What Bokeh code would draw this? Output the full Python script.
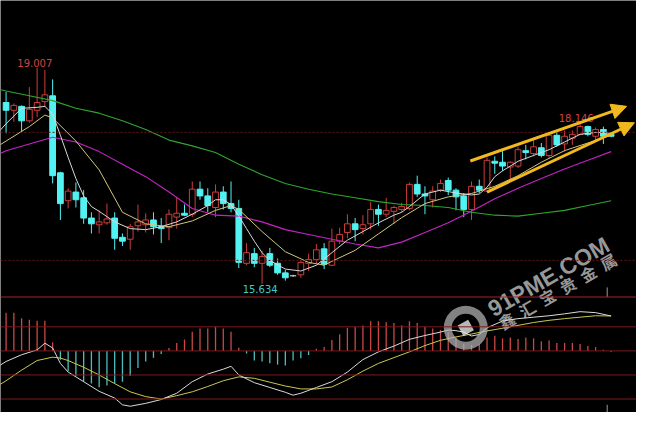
from bokeh.plotting import figure
from bokeh.models import Range1d, Span, Arrow, NormalHead
from bokeh.core.properties import value
from bokeh.embed import file_html
from bokeh.resources import INLINE

# ---------------- data ----------------
opens = [18.466, 18.345, 18.406, 18.180, 18.345, 18.481, 18.571, 17.368, 16.932, 17.067,
         16.977, 16.661, 16.556, 16.586, 16.661, 16.360, 16.330, 16.541, 16.556, 16.631,
         16.526, 16.511, 16.676, 16.736, 16.721, 17.112, 17.007, 16.826, 17.067, 16.887,
         16.811, 15.954, 16.105, 15.954, 16.105, 15.954, 15.804, 15.759, 15.774, 15.954,
         16.014, 16.180, 15.924, 16.300, 16.435, 16.571, 16.496, 16.571, 16.796, 16.721,
         16.766, 16.796, 16.811, 17.187, 17.037, 16.947, 17.097, 17.248, 17.097, 17.007,
         16.796, 17.157, 17.082, 17.548, 17.533, 17.458, 17.473, 17.714, 17.669, 17.759,
         17.639, 17.954, 17.819, 17.909, 17.969, 18.090, 17.939, 18.045, 17.969]
highs = [18.631, 18.451, 18.421, 18.706, 19.007, 18.977, 18.827, 17.383, 17.127, 17.217,
         17.097, 16.751, 16.781, 16.887, 16.751, 16.420, 16.571, 16.872, 16.736, 16.751,
         16.661, 16.796, 16.992, 16.872, 17.232, 17.232, 17.127, 17.187, 17.157, 17.232,
         16.947, 16.270, 16.195, 16.150, 16.195, 16.029, 15.849, 15.774, 15.999, 16.105,
         16.255, 16.270, 16.496, 16.511, 16.721, 16.661, 16.706, 16.917, 16.872, 16.977,
         16.856, 16.902, 17.217, 17.323, 17.157, 17.157, 17.263, 17.293, 17.127, 17.052,
         17.232, 17.263, 17.608, 17.624, 17.714, 17.548, 17.774, 17.804, 17.879, 17.834,
         18.000, 18.000, 18.030, 18.030, 18.146, 18.105, 18.075, 18.090, 17.985]
lows = [17.985, 18.165, 18.000, 18.150, 18.240, 18.406, 17.202, 16.631, 16.811, 16.826,
        16.571, 16.420, 16.420, 16.556, 16.165, 16.225, 16.165, 16.450, 16.435, 16.405,
        16.270, 16.315, 16.496, 16.691, 16.676, 16.947, 16.751, 16.676, 16.796, 16.751,
        15.879, 15.924, 15.894, 15.634, 15.894, 15.774, 15.683, 15.744, 15.728, 15.834,
        15.954, 15.864, 15.909, 16.255, 16.345, 16.300, 16.405, 16.480, 16.541, 16.676,
        16.571, 16.751, 16.781, 16.992, 16.721, 16.826, 17.067, 17.022, 16.781, 16.676,
        16.631, 17.052, 17.067, 17.353, 17.398, 17.263, 17.443, 17.578, 17.624, 17.608,
        17.593, 17.774, 17.699, 17.804, 17.954, 17.939, 17.879, 17.819, 17.924]
closes = [18.345, 18.421, 18.180, 18.360, 18.466, 18.586, 17.323, 16.887, 17.082, 16.947,
          16.661, 16.571, 16.601, 16.646, 16.345, 16.300, 16.526, 16.601, 16.631, 16.526,
          16.496, 16.721, 16.736, 16.706, 17.112, 17.007, 16.856, 17.067, 16.887, 16.811,
          15.969, 16.120, 15.954, 16.059, 15.924, 15.804, 15.728, 15.759, 15.969, 16.014,
          16.165, 15.939, 16.300, 16.405, 16.571, 16.480, 16.556, 16.796, 16.721, 16.781,
          16.826, 16.841, 17.187, 17.037, 17.007, 17.082, 17.202, 17.097, 16.992, 16.796,
          17.157, 17.097, 17.563, 17.518, 17.473, 17.533, 17.729, 17.684, 17.774, 17.639,
          17.954, 17.804, 17.939, 17.969, 18.090, 17.969, 18.045, 17.939, 17.939]

# moving averages (sampled at candle indices)
ma_white_idx = [-1, 0, 2, 4, 5, 6, 7, 8, 9, 10, 11, 12, 14, 16, 18, 20, 22, 24, 26, 27,
                28, 29, 30, 31, 32, 33, 34, 36, 38, 40, 42, 44, 46, 48, 50, 51, 52, 54, 56, 58,
                60, 61, 62, 63, 64, 66, 68, 70, 72, 74, 76, 78]
ma_white = [18.000, 18.135, 18.376, 18.391, 18.406, 18.285, 17.954, 17.608, 17.278, 17.007,
            16.841, 16.766, 16.601, 16.496, 16.480, 16.526, 16.601, 16.721, 16.856, 16.947,
            16.947, 16.872, 16.691, 16.496, 16.300, 16.120, 15.999, 15.864, 15.834, 15.924,
            16.120, 16.315, 16.450, 16.586, 16.706, 16.751, 16.841, 17.037, 17.097, 17.052,
            17.022, 17.037, 17.142, 17.308, 17.398, 17.548, 17.639, 17.729, 17.849, 17.969,
            18.000, 17.985]
ma_yellow_idx = [-1, 0, 3, 5, 6, 9, 12, 15, 18, 21, 24, 27, 29, 30, 33, 36, 39, 41, 42, 45,
                 48, 51, 54, 57, 60, 63, 66, 69, 72, 75, 78]
ma_yellow = [17.789, 17.864, 18.090, 18.270, 18.225, 17.864, 17.413, 16.751, 16.571, 16.526,
             16.616, 16.781, 16.856, 16.796, 16.450, 16.135, 15.969, 15.924, 15.984, 16.157,
             16.413, 16.667, 16.887, 16.992, 17.045, 17.157, 17.323, 17.533, 17.714, 17.834,
             17.954]
ma_long_idx = [-1, 0, 3, 6, 9, 12, 15, 18, 21, 24, 27, 30, 33, 36, 39, 42, 45, 48, 51, 54,
               57, 60, 63, 66, 69, 72, 75, 78]
ma_magenta = [17.654, 17.714, 17.819, 17.924, 17.849, 17.699, 17.503, 17.308, 17.067, 16.811,
              16.706, 16.691, 16.601, 16.480, 16.405, 16.330, 16.255, 16.195, 16.285, 16.435,
              16.586, 16.766, 16.962, 17.127, 17.278, 17.428, 17.563, 17.699]
ma_green = [18.676, 18.646, 18.571, 18.496, 18.376, 18.300, 18.180, 18.045, 17.879, 17.789,
            17.684, 17.503, 17.338, 17.202, 17.112, 17.037, 16.977, 16.917, 16.872, 16.856,
            16.826, 16.751, 16.706, 16.691, 16.736, 16.781, 16.856, 16.932]

# MACD
macd_hist = [0.159, 0.159, 0.136, 0.129, 0.125, 0.125, 0.036, -0.037, -0.084, -0.104,
             -0.128, -0.136, -0.151, -0.144, -0.136, -0.128, -0.104, -0.071, -0.044, -0.028,
             -0.013, 0.012, 0.033, 0.047, 0.080, 0.093, 0.093, 0.100, 0.093, 0.080,
             0.013, -0.011, -0.040, -0.044, -0.051, -0.057, -0.061, -0.040, -0.031, -0.017,
             0.009, 0.016, 0.045, 0.069, 0.096, 0.099, 0.105, 0.123, 0.123, 0.119,
             0.116, 0.107, 0.123, 0.116, 0.100, 0.093, 0.087, 0.076, 0.056, 0.029,
             0.025, 0.029, 0.056, 0.063, 0.052, 0.056, 0.049, 0.056, 0.052, 0.040,
             0.043, 0.033, 0.033, 0.033, 0.029, 0.020, 0.016, 0.005, -0.004]
dif_idx = [-1, 0, 2, 4, 5, 6, 7, 8, 10, 12, 14, 15, 16, 18, 20, 22, 24, 26, 28, 29,
           30, 32, 34, 36, 37, 38, 40, 42, 44, 46, 48, 50, 52, 54, 56, 57, 58, 59, 60, 61,
           62, 64, 66, 68, 70, 72, 74, 76, 78]
dif = [-0.064, -0.044, -0.016, 0.004, 0.032, 0.012, -0.052, -0.088, -0.128, -0.168,
       -0.196, -0.224, -0.230, -0.218, -0.202, -0.176, -0.128, -0.096, -0.076, -0.064,
       -0.100, -0.132, -0.152, -0.172, -0.184, -0.176, -0.152, -0.128, -0.088, -0.036,
       -0.004, 0.020, 0.048, 0.064, 0.078, 0.087, 0.084, 0.078, 0.062, 0.068,
       0.096, 0.124, 0.134, 0.140, 0.146, 0.154, 0.163, 0.159, 0.145]
dea_idx = [-1, 0, 2, 4, 6, 7, 8, 10, 12, 14, 16, 18, 20, 22, 24, 26, 28, 30, 32, 34,
           36, 38, 40, 42, 44, 46, 48, 50, 52, 54, 56, 58, 60, 62, 64, 66, 68, 70, 72, 74,
           76, 78]
dea = [-0.144, -0.124, -0.080, -0.040, -0.026, -0.030, -0.040, -0.068, -0.100, -0.136,
       -0.170, -0.190, -0.200, -0.186, -0.170, -0.148, -0.124, -0.108, -0.114, -0.130,
       -0.146, -0.158, -0.158, -0.150, -0.120, -0.084, -0.052, -0.028, -0.004, 0.022,
       0.044, 0.058, 0.070, 0.083, 0.094, 0.106, 0.118, 0.127, 0.134, 0.140,
       0.146, 0.145]

price_levels = [18.0, 16.0]
macd_levels = [0.1, 0.0, -0.1, -0.2]
label_high = (4, 19.007, "19.007")
label_low = (33, 15.634, "15.634")
label_recent = (74, 18.146, "18.146")
# trend channel (candle index, price)
channel_upper = (59.85, 17.553, 80.0, 18.406)
channel_lower = (62.0, 17.067, 81.0, 18.150)
wm_name = "91PME.COM"
wm_chars = ["鑫", "汇", "宝", "贵", "金", "属"]

# ---------------- styling ----------------
RED = "#CC3E3B"
CYAN = "#52F2F2"
GOLD = "#F2B91E"
W, H = 636, 412


def rx(px):  # reference pixel -> candle index (for decorations)
    return (px - 5.7) / 7.953


def ry(py):  # reference pixel -> price (for decorations)
    return 20.06 - 0.01504 * py


p = figure(width=W, height=H, output_backend="svg", toolbar_location=None,
           x_range=Range1d(-0.72, 81.27), y_range=Range1d(13.623, 20.06),
           x_axis_location=None, y_axis_location=None, min_border=0,
           background_fill_color="black", border_fill_color="black",
           outline_line_color=None)
p.grid.visible = False
p.extra_y_ranges = {"macd": Range1d(-0.256, 1.456)}

# horizontal reference lines
for lv in price_levels:
    p.add_layout(Span(location=lv, dimension="width", line_color="#6A1515",
                      line_width=1, line_dash="2 2"))
p.add_layout(Span(location=0.224, dimension="width", y_range_name="macd",
                  line_color="#A82323", line_width=1.2))
for lv in macd_levels:
    p.add_layout(Span(location=lv, dimension="width", y_range_name="macd",
                      line_color="#7E1A1A", line_width=1))

# candles
n = len(opens)
idx = list(range(n))
up = [i for i in idx if closes[i] > opens[i]]
dn = [i for i in idx if closes[i] < opens[i]]
dj = [i for i in idx if closes[i] == opens[i]]

p.segment(x0=up, x1=up, y0=[lows[i] for i in up], y1=[highs[i] for i in up],
          line_color=RED, line_width=1)
p.segment(x0=dn, x1=dn, y0=[lows[i] for i in dn], y1=[highs[i] for i in dn],
          line_color=CYAN, line_width=1)
p.segment(x0=dj, x1=dj, y0=[lows[i] for i in dj], y1=[highs[i] for i in dj],
          line_color="#D0D0D0", line_width=1)
p.vbar(x=up, width=0.74, top=[closes[i] for i in up], bottom=[opens[i] for i in up],
       fill_color="black", line_color=RED, line_width=1)
p.vbar(x=dn, width=0.74, top=[opens[i] for i in dn], bottom=[closes[i] for i in dn],
       fill_color=CYAN, line_color=CYAN, line_width=1)
p.segment(x0=[i - 0.4 for i in dj], x1=[i + 0.4 for i in dj],
          y0=[opens[i] for i in dj], y1=[closes[i] for i in dj],
          line_color="#D0D0D0", line_width=1.2)

# moving averages
p.line(ma_long_idx, ma_green, line_color="#2FA52F", line_width=1.1)
p.line(ma_long_idx, ma_magenta, line_color="#C424C4", line_width=1.1)
p.line(ma_yellow_idx, ma_yellow, line_color="#CFC77A", line_width=1)
p.line(ma_white_idx, ma_white, line_color="#D8D8D8", line_width=1)

# channel arrows
for (x0, y0, x1, y1) in (channel_upper, channel_lower):
    p.add_layout(Arrow(end=NormalHead(size=15, fill_color=GOLD, line_color=GOLD),
                       x_start=x0, y_start=y0, x_end=x1, y_end=y1,
                       line_color=GOLD, line_width=3))

# high / low labels
font = value("DejaVu Sans")
p.text(x=[label_high[0] - 0.3], y=[label_high[1]], text=[label_high[2]],
       text_color="#D0443F", text_font=font, text_font_size="10px",
       text_align="center", text_baseline="bottom", y_offset=-1)
p.text(x=[label_recent[0] - 0.5], y=[label_recent[1]], text=[label_recent[2]],
       text_color="#D0443F", text_font=font, text_font_size="10px",
       text_align="center", text_baseline="bottom", y_offset=-1)
p.text(x=[label_low[0] - 0.25], y=[label_low[1]], text=[label_low[2]],
       text_color="#46C8C8", text_font=font, text_font_size="10px",
       text_align="center", text_baseline="top", y_offset=1)

# MACD histogram and lines
hcol = [("#C94848" if v >= 0 else "#4DBDBD") for v in macd_hist]
p.segment(x0=idx, x1=idx, y0=[0] * n, y1=macd_hist, line_color=hcol,
          line_width=1.3, y_range_name="macd")
p.line(dea_idx, dea, line_color="#C9C94E", line_width=1, y_range_name="macd")
p.line(dif_idx, dif, line_color="#DADADA", line_width=1, y_range_name="macd")

# small cursor ticks
p.segment(x0=[rx(622)] * 2, x1=[rx(622)] * 2, y0=[ry(298), ry(420)], y1=[ry(308), ry(428)],
          line_color="#9A9A9A", line_width=1)

# watermark
p.annulus(x=[rx(477)], y=[ry(340)], inner_radius=14, outer_radius=22,
          inner_radius_units="screen", outer_radius_units="screen",
          fill_color="#B4B4B4", fill_alpha=0.72, line_color=None)
p.scatter(x=[rx(477)], y=[ry(340)], marker="square", size=12, angle=0.5,
          fill_color="#E6E6E6", fill_alpha=0.8, line_color=None)
p.text(x=[rx(562)], y=[ry(287)], text=[wm_name], angle=0.52,
       text_color="#D4D4D4", text_alpha=0.72, text_font=value("Liberation Sans"),
       text_font_style="bold", text_font_size="23px", text_align="center",
       text_baseline="middle")
nc = len(wm_chars)
cx = [rx(519 + (623 - 519) * k / (nc - 1)) for k in range(nc)]
cy = [ry(332 - (332 - 271) * k / (nc - 1)) for k in range(nc)]
p.text(x=cx, y=cy, text=wm_chars, angle=0.52,
       text_color="#D4D4D4", text_alpha=0.72, text_font=value("Noto Sans CJK SC"),
       text_font_style="bold", text_font_size="16px", text_align="center",
       text_baseline="middle")

open("out.html", "w").write(file_html(p, INLINE))
